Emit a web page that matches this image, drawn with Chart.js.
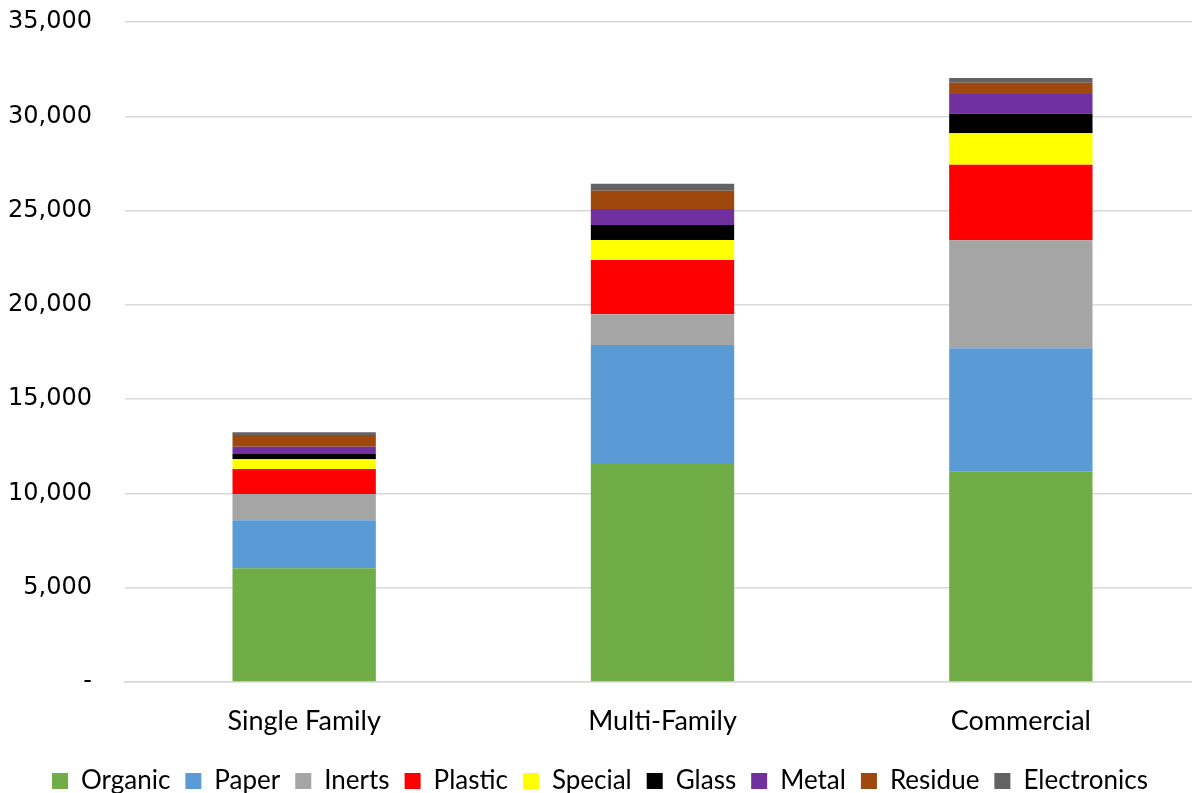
<!DOCTYPE html>
<html>
<head>
<meta charset="utf-8">
<script src="https://cdn.jsdelivr.net/npm/chart.js@4/dist/chart.umd.min.js"></script>
<style>
  html, body { margin: 0; padding: 0; background: #fff; overflow: hidden; }
  #wrap { width: 1200px; height: 793px; position: relative; }
</style>
</head>
<body>
<div id="wrap"><canvas id="chart"></canvas></div>
<script>
// categories and material tonnages
let categories = ['Single Family', 'Multi-Family', 'Commercial'];
let organic = [6030, 11560, 11170];
let paper = [2545, 6310, 6525];
let inerts = [1395, 1630, 5730];
let plastic = [1325, 2880, 4010];
let special = [515, 1060, 1665];
let glass = [280, 795, 1040];
let metal = [385, 850, 1045];
let residue = [620, 970, 600];
let electronics = [145, 370, 250];
let yTicks = [0, 5000, 10000, 15000, 20000, 25000, 30000, 35000];

let seriesNames = ['Organic', 'Paper', 'Inerts', 'Plastic', 'Special', 'Glass', 'Metal', 'Residue', 'Electronics'];
let seriesData = [organic, paper, inerts, plastic, special, glass, metal, residue, electronics];
let seriesColors = ['#70ad47', '#5b9bd5', '#a5a5a5', '#ff0000', '#ffff00', '#000000', '#7030a0', '#9e480e', '#636363'];

let datasets = seriesNames.map(function (name, i) {
    return {
        label: name,
        data: seriesData[i],
        backgroundColor: seriesColors[i],
        borderWidth: 0,
        categoryPercentage: 1,
        barPercentage: 0.4
    };
});

let labelFont = "Lato, 'Open Sans', sans-serif";

new Chart(document.getElementById('chart'), {
    type: 'bar',
    data: { labels: categories, datasets: datasets },
    options: {
        responsive: true,
        maintainAspectRatio: false,
        animation: false,
        layout: { padding: { top: 0, right: 0, bottom: -11, left: 0 } },
        plugins: {
            tooltip: { enabled: false },
            legend: {
                position: 'bottom',
                labels: {
                    color: '#000',
                    font: { family: labelFont, size: 26 },
                    boxWidth: 16,
                    boxHeight: 16,
                    padding: 15
                }
            }
        },
        scales: {
            x: {
                stacked: true,
                afterFit: function (scale) { scale.height = 71; },
                grid: { display: false, drawTicks: false },
                border: { display: true, color: '#d9d9d9', width: 1.5 },
                ticks: { color: '#000', font: { family: labelFont, size: 27 }, padding: 23 }
            },
            y: {
                stacked: true,
                min: 0,
                max: 35000,
                afterFit: function (scale) {
                    scale.width = 125;
                    scale.paddingTop = 22;
                    scale.paddingBottom = 0;
                },
                afterBuildTicks: function (scale) {
                    scale.ticks = yTicks.map(function (v) { return { value: v }; });
                },
                grid: { color: '#d9d9d9', lineWidth: 1.5, drawTicks: false },
                border: { display: false },
                ticks: {
                    color: '#000',
                    padding: 33,
                    font: { family: "'DejaVu Sans', sans-serif", size: 24 },
                    callback: function (v) { return v === 0 ? '-' : v.toLocaleString('en-US'); }
                }
            }
        }
    }
});
</script>
</body>
</html>
